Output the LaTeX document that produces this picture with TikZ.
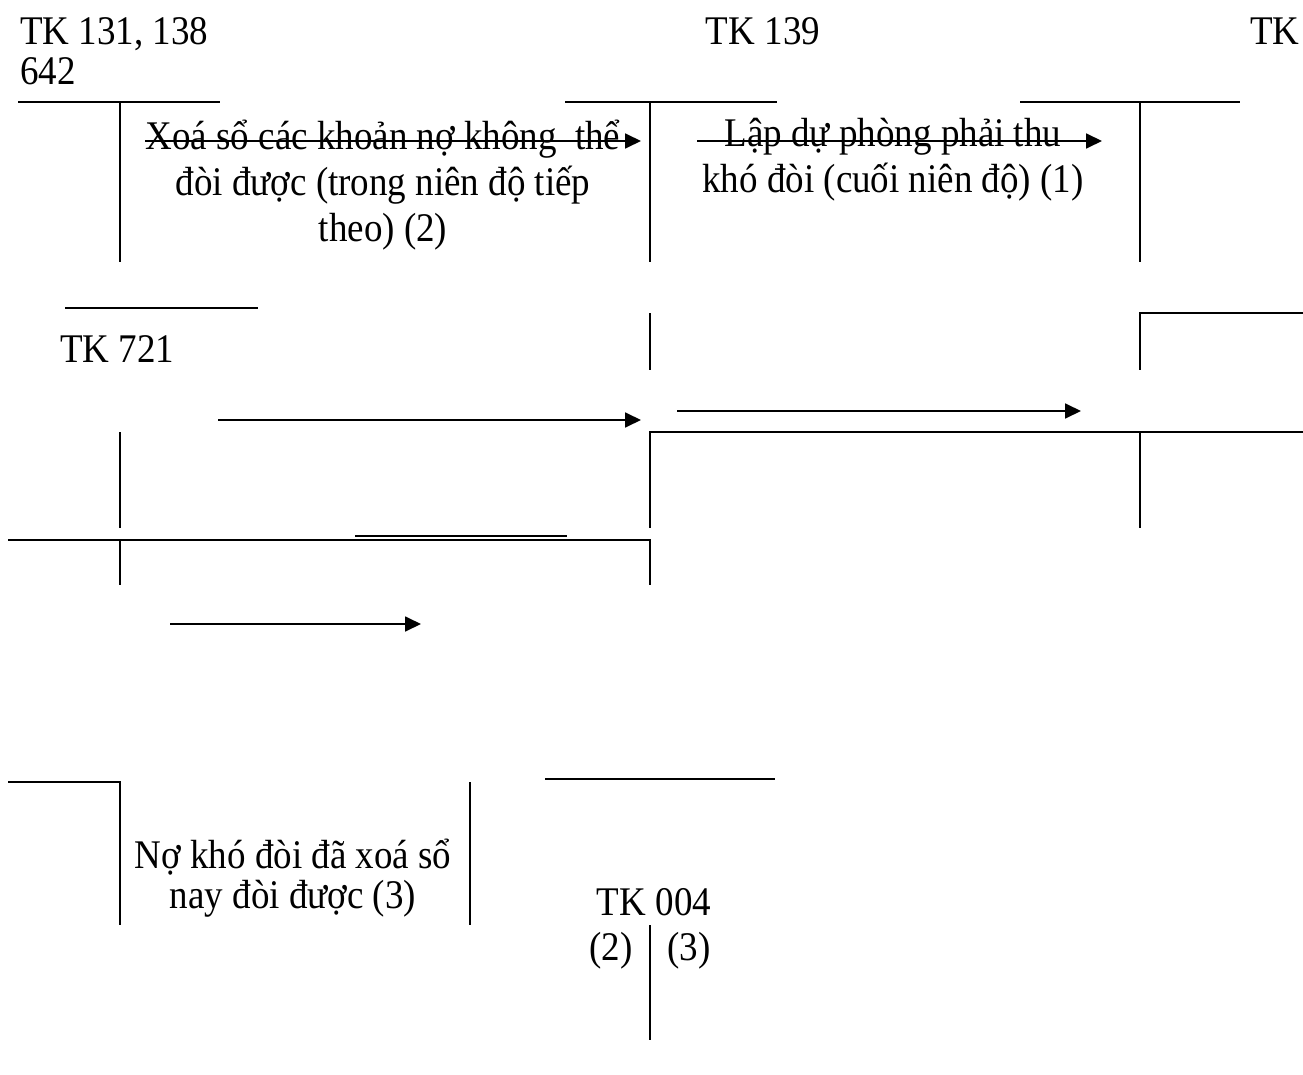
\documentclass[tikz,border=0pt]{standalone}
\usepackage{fontspec}
\setmainfont{Liberation Serif}
\usetikzlibrary{arrows.meta}
\newcommand{\stx}[1]{\scalebox{1}[1.1]{#1}}
\begin{document}
\begin{tikzpicture}[x=1pt,y=1pt,
  tline/.style={line width=2pt},
  arr/.style={line width=1.8pt,-{Triangle[length=16pt,width=15pt]}},
  txt/.style={inner sep=0pt,font=\fontsize{37}{41.8}\selectfont}]
\useasboundingbox (0,0) rectangle (1303,-1075);
% texts
\node[txt,anchor=base west,font=\fontsize{37}{35.5}\selectfont] (tk131) at (20,-45)
  {\stx{\begin{tabular}[t]{@{}l@{}}TK 131, 138\\642\end{tabular}}};
\node[txt,anchor=base] (tk139) at (763,-45) {\stx{TK 139}};
\node[txt,anchor=base west] (tkr) at (1250,-45) {\stx{TK}};
\node[txt,anchor=base] (xoa) at (383,-150)
  {\stx{\begin{tabular}[t]{@{}c@{}}Xoá sổ các khoản nợ không~ thể\\đòi được (trong niên độ tiếp\\theo) (2)\end{tabular}}};
\node[txt,anchor=base] (lap) at (893,-147)
  {\stx{\begin{tabular}[t]{@{}c@{}}Lập dự phòng phải thu\\khó đòi (cuối niên độ) (1)\end{tabular}}};
\node[txt,anchor=base west] (tk721) at (60,-362) {\stx{TK 721}};
\node[txt,anchor=base,font=\fontsize{37}{36.4}\selectfont] (no) at (293,-868)
  {\stx{\begin{tabular}[t]{@{}c@{}}Nợ khó đòi đã xoá sổ\\nay đòi được (3)\end{tabular}}};
\node[txt,anchor=base] (tk004) at (654,-915) {\stx{TK 004}};
\node[txt,anchor=base] (l2) at (611,-960) {\stx{(2)}};
\node[txt,anchor=base] (l3) at (689,-960) {\stx{(3)}};
% T-account lines
\draw[tline] (18,-102) -- (220,-102);
\draw[tline] (120,-102) -- (120,-262);
\draw[tline] (565,-102) -- (777,-102);
\draw[tline] (650,-102) -- (650,-262);
\draw[tline] (1020,-102) -- (1240,-102);
\draw[tline] (1140,-102) -- (1140,-262);
\draw[tline] (65,-308) -- (258,-308);
\draw[tline] (650,-313) -- (650,-370);
\draw[tline] (1303,-313) -- (1140,-313) -- (1140,-370);
\draw[tline] (1303,-432) -- (650,-432) -- (650,-528);
\draw[tline] (1140,-432) -- (1140,-528);
\draw[tline] (120,-432) -- (120,-528);
\draw[tline] (8,-540) -- (650,-540) -- (650,-585);
\draw[tline] (120,-540) -- (120,-585);
\draw[tline] (355,-536) -- (567,-536);
\draw[tline] (8,-782) -- (120,-782) -- (120,-925);
\draw[tline] (470,-782) -- (470,-925);
\draw[tline] (545,-779) -- (775,-779);
\draw[tline] (650,-925) -- (650,-1040);
% arrows
\coordinate (a1s) at (145,-141); \coordinate (a1e) at (641,-141);
\coordinate (a2s) at (697,-141); \coordinate (a2e) at (1102,-141);
\coordinate (a3s) at (218,-420); \coordinate (a3e) at (641,-420);
\coordinate (a4s) at (677,-411); \coordinate (a4e) at (1081,-411);
\coordinate (a5s) at (170,-624); \coordinate (a5e) at (421,-624);
\draw[arr] (a1s) -- (a1e);
\draw[arr] (a2s) -- (a2e);
\draw[arr] (a3s) -- (a3e);
\draw[arr] (a4s) -- (a4e);
\draw[arr] (a5s) -- (a5e);
\end{tikzpicture}
\end{document}
